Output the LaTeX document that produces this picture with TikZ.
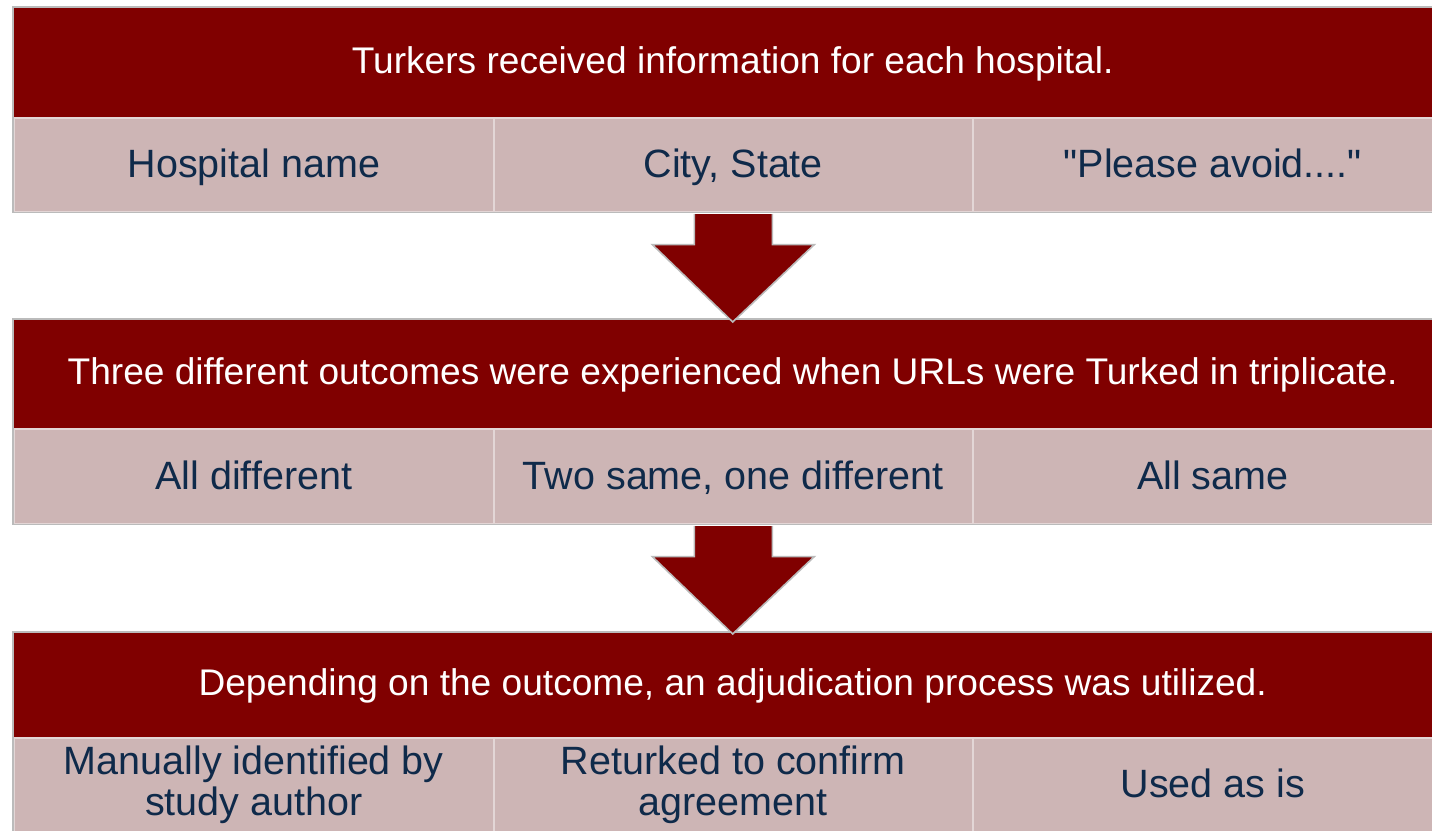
\documentclass[tikz,border=0pt]{standalone}
\usepackage{fontspec}
\setmainfont{Liberation Sans}[Ligatures=TeXOff]
\definecolor{hdrred}{HTML}{800000}
\definecolor{cellfill}{HTML}{CDB5B5}
\definecolor{celltext}{HTML}{0F2A4A}
\definecolor{edgegray}{HTML}{BBBBBB}
\definecolor{divider}{HTML}{E3D6D6}
\begin{document}
\begin{tikzpicture}[x=1pt,y=1pt,
  header/.style={rectangle, fill=hdrred, inner sep=0pt, anchor=north west,
    minimum width=1439pt, text=white, font=\fontsize{37.1}{44}\selectfont,
    text height=26pt, text depth=4pt},
  cellbase/.style={rectangle, fill=cellfill, draw=divider, line width=1.6pt,
    inner sep=0pt, anchor=north west, text=celltext, align=center,
    font=\fontsize{39.5}{41}\selectfont},
  cell/.style={cellbase, text height=30pt, text depth=4pt},
  outline/.style={draw=edgegray, line width=1.6pt},
  blockarrow/.style={fill=hdrred, draw=edgegray, line width=1.6pt, line join=miter}
]
\useasboundingbox (0,0) rectangle (1432,830);

% Section 1
\node[header, minimum height=110pt] (h1) at (13,823) {Turkers received information for each hospital.};
\node[cell, minimum width=480pt, minimum height=94pt] (c1a) at (13,713) {Hospital name};
\node[cell, minimum width=479pt, minimum height=94pt] (c1b) at (493,713) {City, State};
\node[cell, minimum width=480pt, minimum height=94pt] (c1c) at (972,713) {"Please avoid...."};
\draw[outline] (h1.north west) rectangle (c1c.south east);

% Section 2
\node[header, minimum height=109pt] (h2) at (13,511) {Three different outcomes were experienced when URLs were Turked in triplicate.};
\node[cell, minimum width=480pt, minimum height=95pt] (c2a) at (13,402) {All different};
\node[cell, minimum width=479pt, minimum height=95pt] (c2b) at (493,402) {Two same, one different};
\node[cell, minimum width=480pt, minimum height=95pt] (c2c) at (972,402) {All same};
\draw[outline] (h2.north west) rectangle (c2c.south east);

% Section 3
\node[header, minimum height=105pt] (h3) at (13,198) {Depending on the outcome, an adjudication process was utilized.};
\node[cellbase, minimum width=480pt, minimum height=94pt] (c3a) at (13,93) {Manually identified by\\study author};
\node[cellbase, minimum width=479pt, minimum height=94pt] (c3b) at (493,93) {Returked to confirm\\agreement};
\node[cell, minimum width=480pt, minimum height=94pt] (c3c) at (972,93) {Used as is};
\draw[outline] (h3.north west) rectangle (c3c.south east);

% Block arrows
\path[blockarrow] ([xshift=39pt,yshift=-1.5pt]c1b.south)
  -- ([xshift=39pt,yshift=-32pt]c1b.south)
  -- ([xshift=81pt,yshift=-32pt]c1b.south)
  -- ([yshift=-3pt]h2.north)
  -- ([xshift=-81pt,yshift=-32pt]c1b.south)
  -- ([xshift=-39pt,yshift=-32pt]c1b.south)
  -- ([xshift=-39pt,yshift=-1.5pt]c1b.south);
\path[blockarrow] ([xshift=39pt,yshift=-1.5pt]c2b.south)
  -- ([xshift=39pt,yshift=-32pt]c2b.south)
  -- ([xshift=81pt,yshift=-32pt]c2b.south)
  -- ([yshift=-2pt]h3.north)
  -- ([xshift=-81pt,yshift=-32pt]c2b.south)
  -- ([xshift=-39pt,yshift=-32pt]c2b.south)
  -- ([xshift=-39pt,yshift=-1.5pt]c2b.south);
\end{tikzpicture}
\end{document}
